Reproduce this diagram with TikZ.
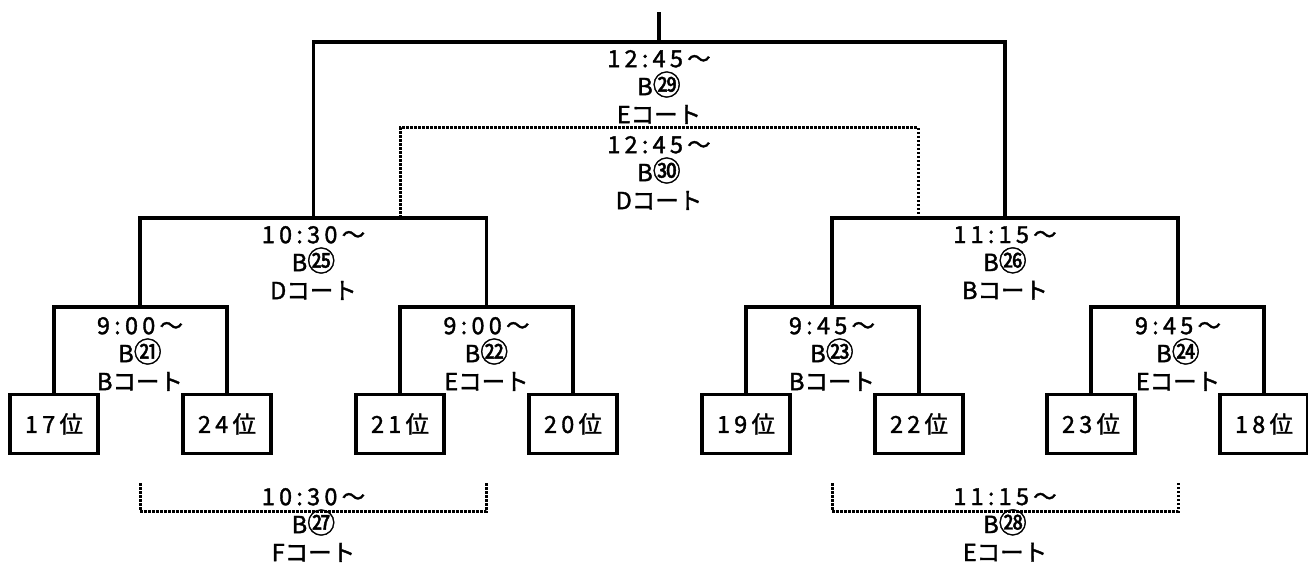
\documentclass[tikz,border=0pt]{standalone}
\usepackage{fontspec}
\setmainfont{Noto Sans CJK JP}[FakeBold=1.5]
\newfontfamily\spc{Noto Sans CJK JP}[LetterSpace=18,FakeBold=1.5]
\newcommand{\cnum}[1]{{\fontsize{28}{28}\selectfont #1}}
\begin{document}
\begin{tikzpicture}[x=1pt,y=-1pt,
  solidline/.style={line width=3.5pt},
  dotline/.style={line width=3pt, dash pattern=on 2.5pt off 1.5pt},
  rank/.style={draw, line width=3.5pt, minimum width=88pt, minimum height=59pt, inner sep=0pt, font=\fontsize{23.5}{28}\selectfont},
  lbl/.style={align=center, font=\fontsize{23.5}{28}\selectfont, inner sep=0pt}]
\useasboundingbox (0,0) rectangle (1308,569);
% rank boxes
\node[rank] (r17) at (54,424) {\spc 17位};
\node[rank] (r24) at (227,424) {\spc 24位};
\node[rank] (r21) at (400,424) {\spc 21位};
\node[rank] (r20) at (573,424) {\spc 20位};
\node[rank] (r19) at (746,424) {\spc 19位};
\node[rank] (r22) at (919,424) {\spc 22位};
\node[rank] (r23) at (1091,424) {\spc 23位};
\node[rank] (r18) at (1264,424) {\spc 18位};
% junctions
\coordinate (j21) at (140,307);
\coordinate (j22) at (486.5,307);
\coordinate (j23) at (832,307);
\coordinate (j24) at (1178,307);
\coordinate (j25) at (313.5,218);
\coordinate (j26) at (1005,218);
\coordinate (j29) at (659,42);
\coordinate (top) at (659,12);
\coordinate (j30) at (659,128);
\coordinate (d30a) at (400,218);
\coordinate (d30b) at (918,218);
\coordinate (j27) at (313.5,511);
\coordinate (j28) at (1005,511);
\coordinate (d27a) at (140,483);
\coordinate (d27b) at (486.5,483);
\coordinate (d28a) at (832,483);
\coordinate (d28b) at (1178,483);
% solid brackets
\draw[solidline] (r17.north) |- (j21) -| (r24.north);
\draw[solidline] (r21.north) |- (j22) -| (r20.north);
\draw[solidline] (r19.north) |- (j23) -| (r22.north);
\draw[solidline] (r23.north) |- (j24) -| (r18.north);
\draw[solidline] (j21) |- (j25) -| (j22);
\draw[solidline] (j23) |- (j26) -| (j24);
\draw[solidline] (j25) |- (j29) -| (j26);
\draw[solidline] (j29) -- (top);
% dotted brackets
\draw[dotline] (d30a) |- (j30) -| (d30b);
\draw[dotline] (d27a) |- (j27) -| (d27b);
\draw[dotline] (d28a) |- (j28) -| (d28b);
% labels
\node[lbl] (t29) at (659,87) {\spc 12:45～\\B\cnum{㉙}\\Eコート};
\node[lbl] (t30) at (659,173) {\spc 12:45～\\B\cnum{㉚}\\Dコート};
\node[lbl] (t25) at (313.5,263) {\spc 10:30～\\B\cnum{㉕}\\Dコート};
\node[lbl] (t26) at (1005,263) {\spc 11:15～\\B\cnum{㉖}\\Bコート};
\node[lbl] (t21) at (140,354) {\spc 9:00～\\B\cnum{㉑}\\Bコート};
\node[lbl] (t22) at (486.5,354) {\spc 9:00～\\B\cnum{㉒}\\Eコート};
\node[lbl] (t23) at (832,354) {\spc 9:45～\\B\cnum{㉓}\\Bコート};
\node[lbl] (t24) at (1178,354) {\spc 9:45～\\B\cnum{㉔}\\Eコート};
\node[lbl] (t27) at (313.5,525) {\spc 10:30～\\B\cnum{㉗}\\Fコート};
\node[lbl] (t28) at (1005,525) {\spc 11:15～\\B\cnum{㉘}\\Eコート};
\end{tikzpicture}
\end{document}
